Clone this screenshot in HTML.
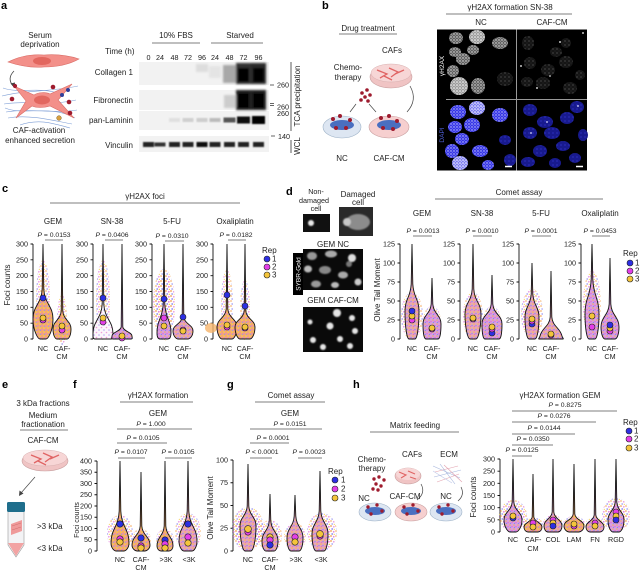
<!DOCTYPE html>
<html><head><meta charset="utf-8"><style>
html,body{margin:0;padding:0;background:#fff}
svg{display:block}
text{font-family:"Liberation Sans",sans-serif;fill:#222}
.L{font-size:11px;font-weight:bold;fill:#000}
.t{font-size:8px}
.s{font-size:8px}
.x{font-size:7.2px}
.k{font-size:7.2px}
.p{font-size:6.8px}
.m{text-anchor:middle}
.e{text-anchor:end}
</style></head><body>
<svg width="640" height="571" viewBox="0 0 640 571" xmlns="http://www.w3.org/2000/svg">
<defs>
<pattern id="po" width="4" height="4" patternUnits="userSpaceOnUse"><rect width="4" height="4" fill="#f3ab6b"/><circle cx="1" cy="1" r=".8" fill="#f8cf52"/><circle cx="3" cy="2.5" r=".8" fill="#e683c8"/><circle cx="1.5" cy="3.4" r=".6" fill="#9d90ee"/></pattern>
<pattern id="pp" width="4" height="4" patternUnits="userSpaceOnUse"><rect width="4" height="4" fill="#d9a0e0"/><circle cx="1" cy="1" r=".8" fill="#f0a860"/><circle cx="3" cy="2.5" r=".8" fill="#e36fd4"/><circle cx="1.5" cy="3.4" r=".7" fill="#8c88f0"/></pattern>
<pattern id="pm" width="4" height="4" patternUnits="userSpaceOnUse"><rect width="4" height="4" fill="#e8a6b6"/><circle cx="1" cy="1" r=".8" fill="#f4b85a"/><circle cx="3" cy="2.5" r=".8" fill="#9a8cf0"/><circle cx="1.5" cy="3.4" r=".7" fill="#e070d0"/></pattern>
<pattern id="pw" width="5" height="5" patternUnits="userSpaceOnUse"><rect width="5" height="5" fill="#fbf6fb"/><circle cx="1" cy="1" r=".8" fill="#b7a6f3"/><circle cx="3.5" cy="3.5" r=".8" fill="#ef9cd9"/></pattern>
<pattern id="pc" width="5" height="5" patternUnits="userSpaceOnUse"><circle cx="1" cy="1" r=".9" fill="#f2a65a" opacity=".8"/><circle cx="3.8" cy="1.8" r=".9" fill="#e27ad8" opacity=".7"/><circle cx="2.2" cy="4" r=".9" fill="#8f86ee" opacity=".75"/><circle cx="4.4" cy="4.4" r=".7" fill="#f7cf4a" opacity=".7"/></pattern>
<pattern id="sg" width="3" height="3" patternUnits="userSpaceOnUse"><rect width="3" height="3" fill="#5e5e5e"/><circle cx="1" cy="1" r=".7" fill="#eee"/><circle cx="2.3" cy="2.2" r=".5" fill="#bbb"/></pattern>
<pattern id="sgb" width="3" height="3" patternUnits="userSpaceOnUse"><rect width="3" height="3" fill="#9a9a9a"/><circle cx="1" cy="1" r=".8" fill="#fff"/><circle cx="2.3" cy="2.2" r=".5" fill="#ddd"/></pattern>
<pattern id="sd" width="4" height="4" patternUnits="userSpaceOnUse"><rect width="4" height="4" fill="#151515"/><circle cx="1" cy="1" r=".6" fill="#666"/><circle cx="3" cy="3" r=".4" fill="#404040"/></pattern>
<pattern id="sb" width="3" height="3" patternUnits="userSpaceOnUse"><rect width="3" height="3" fill="#3434e4"/><circle cx="1" cy="1" r=".7" fill="#d0d0ff"/><circle cx="2.3" cy="2.2" r=".5" fill="#8888ff"/></pattern>
<pattern id="sbw" width="3" height="3" patternUnits="userSpaceOnUse"><rect width="3" height="3" fill="#7a7af0"/><circle cx="1" cy="1" r=".8" fill="#fff"/><circle cx="2.3" cy="2.2" r=".6" fill="#e0e0ff"/></pattern>
<pattern id="sbd" width="4" height="4" patternUnits="userSpaceOnUse"><rect width="4" height="4" fill="#181a8e"/><circle cx="1" cy="1" r=".6" fill="#3a3ed8"/></pattern>
<filter id="bl" x="-50%" y="-50%" width="200%" height="200%"><feGaussianBlur stdDeviation="1"/></filter>
<filter id="bl2" x="-50%" y="-50%" width="200%" height="200%"><feGaussianBlur stdDeviation="0.7"/></filter>
</defs>
<rect width="640" height="571" fill="#fff"/>

<!-- ============ PANEL A ============ -->
<text class="L" x="1" y="9">a</text>
<text class="t m" x="40" y="38">Serum</text>
<text class="t m" x="40" y="47">deprivation</text>
<path d="M8,62 C20,56 32,54 44,55 C58,54 70,56 79,59 C70,64 58,67 44,67 C32,68 20,66 8,62Z" fill="#f3908a" stroke="#d96c66" stroke-width=".6"/>
<ellipse cx="42" cy="61" rx="9" ry="4" fill="#e2675f"/>
<path d="M14,71 C9,76 9,81 13,86" fill="none" stroke="#444" stroke-width=".8"/>
<polygon points="10.5,83.5 14.5,87.5 15,82.5" fill="#444"/>
<g fill="none" stroke="#7f9fd6" stroke-width=".6">
<path d="M2,96 C25,90 50,92 78,86"/><path d="M4,104 C30,100 50,106 76,100"/><path d="M6,112 C30,108 55,114 77,110"/><path d="M8,118 C30,114 55,121 72,124"/><path d="M20,125 C40,118 55,124 70,128"/><path d="M3,88 C20,94 40,86 60,94"/><path d="M5,108 C25,116 50,104 75,118"/>
</g>
<path d="M14,86 L34,95 C38,92 46,92 50,94 L72,84 L58,100 L74,118 L50,106 C44,108 36,108 32,106 L16,118 L26,101 Z" fill="#f3908a" stroke="#d96c66" stroke-width=".6"/>
<ellipse cx="42" cy="100" rx="8" ry="4.5" fill="#e2675f"/>
<g fill="#9e1b2e"><circle cx="12" cy="99" r="2.3"/><circle cx="53" cy="87" r="2.3"/><circle cx="69" cy="102" r="2.3"/><circle cx="70" cy="113" r="2.3"/><circle cx="15" cy="86" r="2.1"/></g>
<g fill="#2f3f9a"><circle cx="68" cy="90" r="2"/><circle cx="62" cy="95" r="2"/></g>
<circle cx="59" cy="118" r="2.3" fill="#d8a040" stroke="#7a5a20" stroke-width=".5"/>
<text class="t m" x="39" y="133">CAF-activation</text>
<text class="t m" x="40" y="143">enhanced secretion</text>

<!-- blot -->
<text class="s m" x="176" y="38">10% FBS</text>
<text class="s m" x="240" y="38">Starved</text>
<path d="M152,43H200 M211,43H263" stroke="#555" stroke-width=".8"/>
<text class="s" x="105" y="54">Time (h)</text>
<text class="k m" x="148.5" y="60">0</text><text class="k m" x="160" y="60">24</text><text class="k m" x="174.5" y="60">48</text><text class="k m" x="188" y="60">72</text><text class="k m" x="202" y="60">96</text><text class="k m" x="215" y="60">24</text><text class="k m" x="229.5" y="60">48</text><text class="k m" x="243.5" y="60">72</text><text class="k m" x="258.5" y="60">96</text>
<text class="s e" x="133" y="75">Collagen 1</text>
<text class="s e" x="133" y="103">Fibronectin</text>
<text class="s e" x="133" y="123">pan-Laminin</text>
<text class="s e" x="133" y="148">Vinculin</text>
<rect x="139" y="62" width="130" height="23" fill="#f2f2f2"/>
<rect x="139" y="90" width="130" height="20" fill="#f2f2f2"/>
<rect x="139" y="111" width="130" height="19" fill="#f2f2f2"/>
<rect x="139" y="136" width="130" height="16" fill="#f2f2f2"/>
<g filter="url(#bl)">
<rect x="196" y="64" width="12" height="8" fill="#ddd"/>
<rect x="209" y="66" width="12" height="12" fill="#e4e4e4"/>
<rect x="223" y="65" width="13" height="18" fill="#a8a8a8"/>
<rect x="236" y="63" width="15" height="21" fill="#333"/>
<rect x="238" y="68" width="11" height="14" fill="#000"/>
<rect x="251" y="63" width="15" height="21" fill="#2a2a2a"/>
<rect x="253" y="68" width="11" height="14" fill="#000"/>
<rect x="224" y="95" width="12" height="13" fill="#ccc"/>
<rect x="236" y="90" width="15" height="20" fill="#222"/>
<rect x="238" y="93" width="11" height="15" fill="#000"/>
<rect x="251" y="90" width="15" height="20" fill="#222"/>
<rect x="253" y="93" width="11" height="15" fill="#000"/>
</g>
<g filter="url(#bl2)">
<rect x="169" y="118" width="11" height="4" fill="#e0e0e0"/>
<rect x="182.5" y="118" width="11" height="4" fill="#d0d0d0"/>
<rect x="196.5" y="118" width="11" height="4" fill="#cdcdcd"/>
<rect x="209.5" y="118" width="11" height="4" fill="#bcbcbc"/>
<rect x="223.5" y="117.5" width="12" height="5" fill="#555"/>
<rect x="237" y="116.5" width="13" height="7" fill="#111"/>
<rect x="252" y="116" width="13" height="8" fill="#000"/>
<rect x="143" y="142" width="11" height="5" fill="#222"/>
<rect x="154.5" y="142.5" width="11" height="4" fill="#333"/>
<rect x="169" y="142" width="11" height="5" fill="#222"/>
<rect x="182.5" y="142" width="11" height="5" fill="#222"/>
<rect x="196.5" y="142" width="11" height="5" fill="#111"/>
<rect x="209.5" y="142" width="11" height="5" fill="#222"/>
<rect x="224" y="142" width="11" height="5" fill="#222"/>
<rect x="238" y="142" width="11" height="5" fill="#222"/>
<rect x="253" y="142" width="11" height="5" fill="#222"/>
</g>
<path d="M270,85H274 M270,103.5H274 M270,105.5H274 M271,136H275" stroke="#333" stroke-width=".7"/>
<text class="k" x="277" y="87.5">260</text>
<text class="k" x="277" y="109.5">260</text>
<text class="k" x="277" y="116">260</text>
<text class="k" x="278" y="139">140</text>
<path d="M291,62V131 M291,140V153" stroke="#333" stroke-width=".8"/>
<text class="s m" transform="translate(300,96) rotate(-90)">TCA precipitation</text>
<text class="s m" transform="translate(300,146) rotate(-90)">WCL</text>

<!-- ============ PANEL B ============ -->
<text class="L" x="322" y="9">b</text>
<text class="t m" x="368" y="31">Drug treatment</text>
<path d="M339,34H397" stroke="#555" stroke-width=".8"/>
<text class="t m" x="392" y="53">CAFs</text>
<text class="t m" x="348" y="70">Chemo-</text>
<text class="t m" x="348" y="80">therapy</text>
<ellipse cx="391" cy="77" rx="21" ry="11" fill="#f0c4c4" stroke="#c9a0a0" stroke-width=".6"/>
<ellipse cx="391" cy="73" rx="20" ry="9" fill="#f7d6d6" stroke="#d8b0b0" stroke-width=".5"/>
<g stroke="#e06464" stroke-width="1.3" fill="none"><path d="M377,70 L387,74 L380,78"/><path d="M389,68 L398,72 L391,77"/><path d="M395,74 L404,70"/><path d="M384,76 L392,80"/></g>
<g fill="#9e1b2e"><circle cx="362" cy="93" r="1.8"/><circle cx="367" cy="90" r="1.8"/><circle cx="365" cy="97" r="1.8"/><circle cx="370" cy="95" r="1.8"/><circle cx="361" cy="100" r="1.8"/><circle cx="368" cy="101" r="1.8"/></g>
<g stroke="#444" stroke-width=".7" fill="none"><path d="M356,104 L350,112"/><path d="M369,104 L376,112"/><path d="M410,86 Q418,100 407,112"/></g>
<ellipse cx="342" cy="127" rx="19" ry="11" fill="#dde6f2" stroke="#9fb3c8" stroke-width=".6"/>
<ellipse cx="342" cy="125" rx="12" ry="5" fill="#4a6fc0"/>
<ellipse cx="389" cy="127" rx="20" ry="11" fill="#f6cfcf" stroke="#c9a0a0" stroke-width=".6"/>
<ellipse cx="389" cy="125" rx="12" ry="5" fill="#4a6fc0"/>
<g fill="#9e1b2e"><circle cx="333" cy="119" r="2"/><circle cx="340" cy="116" r="2"/><circle cx="350" cy="120" r="2"/><circle cx="346" cy="128" r="2"/><circle cx="336" cy="128" r="2"/><circle cx="381" cy="118" r="2"/><circle cx="389" cy="116" r="2"/><circle cx="397" cy="121" r="2"/><circle cx="393" cy="129" r="2"/><circle cx="383" cy="128" r="2"/></g>
<text class="t m" x="342" y="161">NC</text>
<text class="t m" x="389" y="161">CAF-CM</text>

<text class="t m" x="510" y="10">γH2AX formation SN-38</text>
<path d="M446,14H572" stroke="#555" stroke-width=".8"/>
<text class="t m" x="481" y="25">NC</text>
<text class="t m" x="552" y="25">CAF-CM</text>
<rect x="437" y="29.5" width="9" height="141" fill="#000"/>
<text class="k m" transform="translate(444,66) rotate(-90)" style="fill:#fff;font-size:6.5px">γH2AX</text>
<text class="k m" transform="translate(444,135) rotate(-90)" style="fill:#5060d8;font-size:6.5px">DAPI</text>
<rect x="446" y="29.5" width="141" height="141" fill="#000"/>
<g>
<ellipse cx="456" cy="38" rx="7" ry="6" fill="url(#sg)"/><ellipse cx="477" cy="37" rx="8" ry="7" fill="url(#sgb)"/><ellipse cx="500" cy="43" rx="8" ry="6" fill="url(#sg)"/><ellipse cx="455" cy="52" rx="6" ry="5" fill="url(#sg)"/><ellipse cx="473" cy="50" rx="6" ry="5" fill="url(#sg)"/><ellipse cx="463" cy="59" rx="7" ry="6" fill="url(#sg)"/><ellipse cx="453" cy="71" rx="6" ry="6" fill="url(#sg)"/><ellipse cx="459" cy="86" rx="9" ry="9" fill="url(#sgb)"/><ellipse cx="478" cy="86" rx="7" ry="8" fill="url(#sg)"/><ellipse cx="505" cy="79" rx="8" ry="7" fill="url(#sd)"/>
<ellipse cx="528" cy="43" rx="6" ry="7" fill="url(#sd)"/><ellipse cx="566" cy="43" rx="5" ry="5" fill="url(#sd)"/><ellipse cx="530" cy="63" rx="6" ry="6" fill="url(#sd)"/><ellipse cx="548" cy="70" rx="7" ry="6" fill="url(#sd)"/><ellipse cx="566" cy="62" rx="7" ry="6" fill="url(#sd)"/><ellipse cx="543" cy="83" rx="7" ry="6" fill="url(#sd)"/><ellipse cx="570" cy="88" rx="7" ry="6" fill="url(#sd)"/><ellipse cx="527" cy="82" rx="6" ry="5" fill="url(#sd)"/><ellipse cx="556" cy="52" rx="6" ry="5" fill="url(#sd)"/><ellipse cx="580" cy="75" rx="5" ry="5" fill="url(#sd)"/>
<g fill="#fff"><circle cx="521" cy="66" r=".9"/><circle cx="537" cy="88" r=".9"/><circle cx="560" cy="42" r=".9"/><circle cx="583" cy="33" r=".9"/><circle cx="550" cy="76" r=".8"/></g>
<ellipse cx="458" cy="112" rx="8" ry="7" fill="url(#sb)"/><ellipse cx="477" cy="108" rx="8" ry="7" fill="url(#sbw)"/><ellipse cx="500" cy="115" rx="8" ry="7" fill="url(#sb)"/><ellipse cx="455" cy="127" rx="7" ry="6" fill="url(#sb)"/><ellipse cx="472" cy="125" rx="8" ry="7" fill="url(#sb)"/><ellipse cx="462" cy="139" rx="7" ry="6" fill="url(#sb)"/><ellipse cx="452" cy="151" rx="7" ry="7" fill="url(#sb)"/><ellipse cx="480" cy="151" rx="8" ry="6" fill="url(#sb)"/><ellipse cx="505" cy="140" rx="6" ry="5" fill="url(#sbd)"/><ellipse cx="460" cy="163" rx="8" ry="7" fill="url(#sbw)"/><ellipse cx="488" cy="165" rx="6" ry="5" fill="url(#sb)"/><ellipse cx="510" cy="160" rx="6" ry="6" fill="url(#sbd)"/>
<ellipse cx="530" cy="110" rx="7" ry="6" fill="url(#sbd)"/><ellipse cx="545" cy="122" rx="8" ry="6" fill="url(#sbd)"/><ellipse cx="577" cy="107" rx="7" ry="6" fill="url(#sbd)"/><ellipse cx="552" cy="133" rx="8" ry="6" fill="url(#sbd)"/><ellipse cx="567" cy="118" rx="7" ry="6" fill="url(#sbd)"/><ellipse cx="530" cy="133" rx="7" ry="6" fill="url(#sbd)"/><ellipse cx="563" cy="146" rx="7" ry="5" fill="url(#sbd)"/><ellipse cx="540" cy="151" rx="7" ry="6" fill="url(#sbd)"/><ellipse cx="575" cy="158" rx="6" ry="5" fill="url(#sbd)"/><ellipse cx="528" cy="162" rx="7" ry="5" fill="url(#sbd)"/><ellipse cx="555" cy="163" rx="6" ry="5" fill="url(#sbd)"/><ellipse cx="583" cy="135" rx="5" ry="6" fill="url(#sbd)"/>
<g fill="#ddf"><circle cx="547" cy="122" r=".9"/><circle cx="531" cy="133" r=".9"/><circle cx="578" cy="106" r=".9"/></g>
</g>
<path d="M516.5,29.5V170.5 M446,99.5H587" stroke="#999" stroke-width="1"/>
<path d="M505,166.5H512 M576,166.5H583" stroke="#fff" stroke-width="1.5"/>

<!-- ============ PANEL C ============ -->
<text class="L" x="2" y="192">c</text>
<text class="t m" x="145" y="199">γH2AX foci</text>
<path d="M50,203H240" stroke="#555" stroke-width=".8"/>
<text class="t m" x="53" y="224">GEM</text>
<text class="t m" x="112" y="224">SN-38</text>
<text class="t m" x="172" y="224">5-FU</text>
<text class="t m" x="235" y="224">Oxaliplatin</text>
<text class="p m" x="54" y="237"><tspan font-style="italic">P</tspan> = 0.0153</text>
<text class="p m" x="112" y="237"><tspan font-style="italic">P</tspan> = 0.0406</text>
<text class="p m" x="172" y="238"><tspan font-style="italic">P</tspan> = 0.0310</text>
<text class="p m" x="236" y="237"><tspan font-style="italic">P</tspan> = 0.0182</text>
<path d="M45,240H63 M105,240H123 M165,241H184 M228,240H246" stroke="#555" stroke-width=".7"/>
<g stroke="#111" stroke-width=".9" fill="none">
<path d="M33,244V339 M30.5,244H33 M30.5,259.8H33 M30.5,275.7H33 M30.5,291.5H33 M30.5,307.3H33 M30.5,323.2H33 M30.5,339H33"/>
<path d="M93,244V339 M90.5,244H93 M90.5,259.8H93 M90.5,275.7H93 M90.5,291.5H93 M90.5,307.3H93 M90.5,323.2H93 M90.5,339H93"/>
<path d="M152,244V339 M149.5,244H152 M149.5,259.8H152 M149.5,275.7H152 M149.5,291.5H152 M149.5,307.3H152 M149.5,323.2H152 M149.5,339H152"/>
<path d="M213,244V339 M210.5,244H213 M210.5,259.8H213 M210.5,275.7H213 M210.5,291.5H213 M210.5,307.3H213 M210.5,323.2H213 M210.5,339H213"/>
</g>
<text class="k e" x="28" y="246.5">300</text><text class="k e" x="28" y="262.3">250</text><text class="k e" x="28" y="278.2">200</text><text class="k e" x="28" y="294">150</text><text class="k e" x="28" y="309.8">100</text><text class="k e" x="28" y="325.7">50</text><text class="k e" x="28" y="341.5">0</text>
<text class="k e" x="88" y="246.5">300</text><text class="k e" x="88" y="262.3">250</text><text class="k e" x="88" y="278.2">200</text><text class="k e" x="88" y="294">150</text><text class="k e" x="88" y="309.8">100</text><text class="k e" x="88" y="325.7">50</text><text class="k e" x="88" y="341.5">0</text>
<text class="k e" x="147" y="246.5">300</text><text class="k e" x="147" y="262.3">250</text><text class="k e" x="147" y="278.2">200</text><text class="k e" x="147" y="294">150</text><text class="k e" x="147" y="309.8">100</text><text class="k e" x="147" y="325.7">50</text><text class="k e" x="147" y="341.5">0</text>
<text class="k e" x="208" y="246.5">300</text><text class="k e" x="208" y="262.3">250</text><text class="k e" x="208" y="278.2">200</text><text class="k e" x="208" y="294">150</text><text class="k e" x="208" y="309.8">100</text><text class="k e" x="208" y="325.7">50</text><text class="k e" x="208" y="341.5">0</text>
<text class="t m" transform="translate(10,285) rotate(-90)">Foci counts</text>
<g fill="url(#pc)">
<ellipse cx="43" cy="300" rx="7" ry="40"/><ellipse cx="103" cy="300" rx="7" ry="40"/><ellipse cx="164" cy="305" rx="11" ry="36"/><ellipse cx="164" cy="305" rx="9" ry="30"/><ellipse cx="227" cy="305" rx="6" ry="35"/><ellipse cx="245" cy="310" rx="5" ry="30"/><ellipse cx="62" cy="320" rx="5" ry="25"/>
</g>
<ellipse cx="211" cy="328" rx="6" ry="5" fill="#f6b46a" opacity=".8"/>
<g stroke="#111" stroke-width=".9">
<path transform="translate(43,339)" fill="url(#po)" d="M0,-95 L0.8,-50 C1.5,-35 10,-33.5 10,-20 C10,-8 5,0 3,0 L-3,0 C-5,0 -10,-8 -10,-20 C-10,-33.5 -1.5,-35 -0.8,-50 Z"/>
<path transform="translate(62,339)" fill="url(#po)" d="M0,-95 L0.8,-28 C1.5,-19 9,-18 9,-10 C9,-4 7,0 5,0 L-5,0 C-7,0 -9,-4 -9,-10 C-9,-18 -1.5,-19 -0.8,-28 Z"/>
<path transform="translate(103,339)" fill="url(#pw)" d="M0,-95 L0.8,-35 C1.5,-20 10,-18.5 10,-5 C10,-2 10,0 8,0 L-8,0 C-10,0 -10,-2 -10,-5 C-10,-18.5 -1.5,-20 -0.8,-35 Z"/>
<path transform="translate(122,339)" fill="url(#pp)" d="M0,-95 L0.8,-12 C1.5,-7.5 10,-7 10,-3 C10,-1.2 11,0 9,0 L-9,0 C-11,0 -10,-1.2 -10,-3 C-10,-7 -1.5,-7.5 -0.8,-12 Z"/>
<path transform="translate(164,339)" fill="url(#pp)" d="M0,-95 L0.8,-35 C1.5,-20.5 7,-19 7,-6 C7,-2.4 6,0 4,0 L-4,0 C-6,0 -7,-2.4 -7,-6 C-7,-19 -1.5,-20.5 -0.8,-35 Z"/>
<path transform="translate(183,339)" fill="url(#pm)" d="M0,-95 L0.8,-22 C1.5,-15 10,-14.3 10,-8 C10,-3.2 7,0 5,0 L-5,0 C-7,0 -10,-3.2 -10,-8 C-10,-14.3 -1.5,-15 -0.8,-22 Z"/>
<path transform="translate(227,339)" fill="url(#po)" d="M0,-95 L0.8,-30 C1.5,-21 10,-20 10,-12 C10,-4.8 7,0 5,0 L-5,0 C-7,0 -10,-4.8 -10,-12 C-10,-20 -1.5,-21 -0.8,-30 Z"/>
<path transform="translate(245,339)" fill="url(#po)" d="M0,-95 L0.8,-28 C1.5,-20 10,-19 10,-12 C10,-4.8 7,0 5,0 L-5,0 C-7,0 -10,-4.8 -10,-12 C-10,-19 -1.5,-20 -0.8,-28 Z"/>
</g>
<g stroke="#222" stroke-width=".6">
<circle cx="43" cy="298" r="3" fill="#2d2fe3"/><circle cx="43" cy="320" r="3" fill="#e33fe8"/><circle cx="43" cy="318" r="3" fill="#f4c53b"/>
<circle cx="62" cy="330" r="3" fill="#e33fe8"/><circle cx="62" cy="326" r="3" fill="#f4c53b"/>
<circle cx="103" cy="298" r="3" fill="#2d2fe3"/><circle cx="103" cy="322" r="3" fill="#e33fe8"/><circle cx="103" cy="318" r="3" fill="#f4c53b"/>
<circle cx="122" cy="338" r="3" fill="#e33fe8"/><circle cx="122" cy="336" r="3" fill="#f4c53b"/>
<circle cx="164" cy="299" r="3" fill="#2d2fe3"/><circle cx="164" cy="318" r="3" fill="#e33fe8"/><circle cx="164" cy="326" r="3" fill="#f4c53b"/>
<circle cx="183" cy="317" r="3" fill="#2d2fe3"/><circle cx="183" cy="330" r="3" fill="#e33fe8"/><circle cx="183" cy="331" r="3" fill="#f4c53b"/>
<circle cx="227" cy="295" r="3" fill="#2d2fe3"/><circle cx="227" cy="327" r="3" fill="#e33fe8"/><circle cx="227" cy="325" r="3" fill="#f4c53b"/>
<circle cx="245" cy="306" r="3" fill="#2d2fe3"/><circle cx="245" cy="328" r="3" fill="#e33fe8"/><circle cx="245" cy="327" r="3" fill="#f4c53b"/>
</g>
<text class="x m" x="43" y="351">NC</text><text class="x m" x="62" y="351">CAF-</text><text class="x m" x="62" y="359">CM</text>
<text class="x m" x="103" y="351">NC</text><text class="x m" x="122" y="351">CAF-</text><text class="x m" x="122" y="359">CM</text>
<text class="x m" x="164" y="351">NC</text><text class="x m" x="183" y="351">CAF-</text><text class="x m" x="183" y="359">CM</text>
<text class="x m" x="227" y="351">NC</text><text class="x m" x="245" y="351">CAF-</text><text class="x m" x="245" y="359">CM</text>
<text class="s" x="262" y="253">Rep</text>
<g stroke="#222" stroke-width=".6"><circle cx="267" cy="259" r="3" fill="#2d2fe3"/><circle cx="267" cy="267" r="3" fill="#e33fe8"/><circle cx="267" cy="275" r="3" fill="#f4c53b"/></g>
<text class="s" x="272" y="261.5">1</text><text class="s" x="272" y="269.5">2</text><text class="s" x="272" y="277.5">3</text>

<!-- ============ PANEL D ============ -->
<text class="L" x="286" y="195">d</text>
<text class="x m" x="316" y="194">Non-</text>
<text class="x m" x="314" y="203">damaged</text>
<text class="x m" x="316" y="211">cell</text>
<rect x="303" y="214" width="27" height="18" fill="#111"/>
<circle cx="311" cy="223" r="3" fill="#e8e8e8" filter="url(#bl2)"/>
<text class="s m" x="358" y="197">Damaged</text>
<text class="s m" x="358" y="205">cell</text>
<rect x="339" y="207" width="34" height="29" fill="#2a2a2a"/>
<ellipse cx="358" cy="222" rx="12" ry="8" fill="#8c8c8c" filter="url(#bl2)"/>
<circle cx="347" cy="222" r="4" fill="#c8c8c8" filter="url(#bl2)"/>
<text class="s m" x="333" y="247">GEM NC</text>
<rect x="303" y="249" width="60" height="41" fill="#0a0a0a"/>
<g filter="url(#bl2)">
<ellipse cx="312" cy="256" rx="5" ry="4" fill="#999"/><ellipse cx="331" cy="254" rx="6" ry="3.5" fill="#aaa"/><circle cx="352" cy="258" r="4" fill="#ddd"/><ellipse cx="308" cy="269" rx="4" ry="3.5" fill="#bbb"/><ellipse cx="325" cy="270" rx="6" ry="4" fill="#888"/><ellipse cx="343" cy="275" rx="5" ry="3.5" fill="#aaa"/><circle cx="358" cy="282" r="3.5" fill="#ccc"/><ellipse cx="316" cy="284" rx="5" ry="3.5" fill="#999"/><ellipse cx="335" cy="285" rx="4" ry="3" fill="#bbb"/><circle cx="349" cy="264" r="3" fill="#777"/>
</g>
<rect x="293" y="253" width="10" height="42" fill="#000"/>
<text class="k m" transform="translate(300.5,274) rotate(-90)" style="fill:#fff;font-size:6.5px">SYBR-Gold</text>
<text class="s m" x="333" y="303">GEM CAF-CM</text>
<rect x="303" y="307" width="60" height="45" fill="#0a0a0a"/>
<g fill="#e6e6e6" filter="url(#bl2)">
<circle cx="337" cy="313" r="4"/><circle cx="352" cy="318" r="3"/><circle cx="330" cy="326" r="3.5"/><circle cx="355" cy="331" r="3"/><circle cx="340" cy="339" r="3"/><circle cx="313" cy="340" r="3"/><circle cx="323" cy="347" r="3"/><circle cx="350" cy="346" r="3"/><circle cx="310" cy="322" r="2.5"/>
</g>
<text class="t m" x="519" y="195">Comet assay</text>
<path d="M435,199H603" stroke="#555" stroke-width=".8"/>
<text class="t m" x="422" y="216">GEM</text>
<text class="t m" x="482" y="216">SN-38</text>
<text class="t m" x="541" y="216">5-FU</text>
<text class="t m" x="600" y="216">Oxaliplatin</text>
<text class="p m" x="423" y="233"><tspan font-style="italic">P</tspan> = 0.0013</text>
<text class="p m" x="482" y="233"><tspan font-style="italic">P</tspan> = 0.0010</text>
<text class="p m" x="541" y="233"><tspan font-style="italic">P</tspan> = 0.0001</text>
<text class="p m" x="600" y="233"><tspan font-style="italic">P</tspan> = 0.0453</text>
<path d="M413,236H432 M473,236H492 M532,236H551 M592,236H610" stroke="#555" stroke-width=".7"/>
<g stroke="#111" stroke-width=".9" fill="none">
<path d="M400,244V339 M397.5,244H400 M397.5,263H400 M397.5,282H400 M397.5,301H400 M397.5,320H400 M397.5,339H400"/>
<path d="M460,244V339 M457.5,244H460 M457.5,263H460 M457.5,282H460 M457.5,301H460 M457.5,320H460 M457.5,339H460"/>
<path d="M519,244V339 M516.5,244H519 M516.5,263H519 M516.5,282H519 M516.5,301H519 M516.5,320H519 M516.5,339H519"/>
<path d="M581,244V339 M578.5,244H581 M578.5,263H581 M578.5,282H581 M578.5,301H581 M578.5,320H581 M578.5,339H581"/>
</g>
<text class="k e" x="395" y="246.5">125</text><text class="k e" x="395" y="265.5">100</text><text class="k e" x="395" y="284.5">75</text><text class="k e" x="395" y="303.5">50</text><text class="k e" x="395" y="322.5">25</text><text class="k e" x="395" y="341.5">0</text>
<text class="k e" x="455" y="246.5">125</text><text class="k e" x="455" y="265.5">100</text><text class="k e" x="455" y="284.5">75</text><text class="k e" x="455" y="303.5">50</text><text class="k e" x="455" y="322.5">25</text><text class="k e" x="455" y="341.5">0</text>
<text class="k e" x="514" y="246.5">125</text><text class="k e" x="514" y="265.5">100</text><text class="k e" x="514" y="284.5">75</text><text class="k e" x="514" y="303.5">50</text><text class="k e" x="514" y="322.5">25</text><text class="k e" x="514" y="341.5">0</text>
<text class="k e" x="576" y="246.5">125</text><text class="k e" x="576" y="265.5">100</text><text class="k e" x="576" y="284.5">75</text><text class="k e" x="576" y="303.5">50</text><text class="k e" x="576" y="322.5">25</text><text class="k e" x="576" y="341.5">0</text>
<text class="t m" transform="translate(380,290) rotate(-90)">Olive Tail Moment</text>
<g fill="url(#pc)">
<ellipse cx="412" cy="316" rx="11" ry="24"/><ellipse cx="432" cy="322" rx="9" ry="16"/><ellipse cx="473" cy="316" rx="10" ry="24"/><ellipse cx="492" cy="322" rx="9" ry="16"/><ellipse cx="532" cy="314" rx="11" ry="25"/><ellipse cx="532" cy="318" rx="9" ry="18"/><ellipse cx="592" cy="305" rx="9" ry="34"/><ellipse cx="610" cy="325" rx="8" ry="14"/>
</g>
<g stroke="#111" stroke-width=".9">
<path transform="translate(412,339)" fill="url(#pm)" d="M0,-95 L0.8,-55 C1.5,-41.5 7,-40 7,-28 C7,-11 5,0 3,0 L-3,0 C-5,0 -7,-11 -7,-28 C-7,-40 -1.5,-41.5 -0.8,-55 Z"/>
<path transform="translate(432,339)" fill="url(#pp)" d="M0,-61 L0.8,-35 C1.5,-25 9,-24 9,-15 C9,-6 8,0 6,0 L-6,0 C-8,0 -9,-6 -9,-15 C-9,-24 -1.5,-25 -0.8,-35 Z"/>
<path transform="translate(473,339)" fill="url(#pm)" d="M0,-95 L0.8,-50 C1.5,-37.5 8,-36 8,-25 C8,-10 5,0 3,0 L-3,0 C-5,0 -8,-10 -8,-25 C-8,-36 -1.5,-37.5 -0.8,-50 Z"/>
<path transform="translate(492,339)" fill="url(#pp)" d="M0,-64 L0.8,-35 C1.5,-25 10,-24 10,-15 C10,-6 9,0 7,0 L-7,0 C-9,0 -10,-6 -10,-15 C-10,-24 -1.5,-25 -0.8,-35 Z"/>
<path transform="translate(532,339)" fill="url(#pm)" d="M0,-76 L0.8,-45 C1.5,-33.5 7,-32 7,-22 C7,-9 5,0 3,0 L-3,0 C-5,0 -7,-9 -7,-22 C-7,-32 -1.5,-33.5 -0.8,-45 Z"/>
<path transform="translate(551,339)" fill="url(#pm)" d="M0,-68 L0.8,-22 C1.5,-12.5 9,-11.5 11,-3 C11.5,-1.2 13,0 12,0 L-12,0 C-13,0 -11.5,-1.2 -11,-3 C-9,-11.5 -1.5,-12.5 -0.8,-22 Z"/>
<path transform="translate(592,339)" fill="url(#pp)" d="M0,-95 L0.8,-60 C1.5,-42.5 7,-41 7,-25 C7,-10 5,0 3,0 L-3,0 C-5,0 -7,-10 -7,-25 C-7,-41 -1.5,-42.5 -0.8,-60 Z"/>
<path transform="translate(610,339)" fill="url(#pp)" d="M0,-81 L0.8,-35 C1.5,-23.5 9,-22 9,-12 C9,-4.8 7,0 5,0 L-5,0 C-7,0 -9,-4.8 -9,-12 C-9,-22 -1.5,-23.5 -0.8,-35 Z"/>
</g>
<g stroke="#222" stroke-width=".6">
<circle cx="412" cy="320" r="3" fill="#e33fe8"/><circle cx="412" cy="316" r="3" fill="#f4c53b"/><circle cx="412" cy="311" r="3" fill="#2d2fe3"/>
<circle cx="432" cy="329" r="3" fill="#e33fe8"/><circle cx="432" cy="328" r="3" fill="#f4c53b"/>
<circle cx="473" cy="319" r="3" fill="#e33fe8"/><circle cx="473" cy="318" r="3" fill="#f4c53b"/>
<circle cx="492" cy="333" r="3" fill="#2d2fe3"/><circle cx="492" cy="329" r="3" fill="#e33fe8"/><circle cx="492" cy="327" r="3" fill="#f4c53b"/>
<circle cx="532" cy="324" r="3" fill="#2d2fe3"/><circle cx="532" cy="321" r="3" fill="#e33fe8"/><circle cx="532" cy="319" r="3" fill="#f4c53b"/>
<circle cx="551" cy="335" r="3" fill="#e33fe8"/><circle cx="551" cy="334" r="3" fill="#f4c53b"/>
<circle cx="592" cy="327" r="3" fill="#e33fe8"/><circle cx="592" cy="316" r="3" fill="#f4c53b"/>
<circle cx="610" cy="331" r="3" fill="#e33fe8"/><circle cx="610" cy="328" r="3" fill="#f4c53b"/><circle cx="610" cy="325" r="3" fill="#2d2fe3"/>
</g>
<text class="x m" x="412" y="351">NC</text><text class="x m" x="432" y="351">CAF-</text><text class="x m" x="432" y="359">CM</text>
<text class="x m" x="473" y="351">NC</text><text class="x m" x="492" y="351">CAF-</text><text class="x m" x="492" y="359">CM</text>
<text class="x m" x="532" y="351">NC</text><text class="x m" x="551" y="351">CAF-</text><text class="x m" x="551" y="359">CM</text>
<text class="x m" x="592" y="351">NC</text><text class="x m" x="610" y="351">CAF-</text><text class="x m" x="610" y="359">CM</text>
<text class="s" x="623" y="256">Rep</text>
<g stroke="#222" stroke-width=".6"><circle cx="630" cy="263" r="3" fill="#2d2fe3"/><circle cx="630" cy="271" r="3" fill="#e33fe8"/><circle cx="630" cy="279" r="3" fill="#f4c53b"/></g>
<text class="s" x="635" y="265.5">1</text><text class="s" x="635" y="273.5">2</text><text class="s" x="635" y="281.5">3</text>

<!-- ============ PANEL E ============ -->
<text class="L" x="2" y="388">e</text>
<text class="t m" x="43" y="406">3 kDa fractions</text>
<text class="t m" x="43" y="418">Medium</text>
<text class="t m" x="43" y="427">fractionation</text>
<path d="M20,430H68" stroke="#555" stroke-width=".8"/>
<text class="t m" x="43" y="443">CAF-CM</text>
<ellipse cx="45" cy="461" rx="23" ry="10" fill="#f0c4c4" stroke="#c9a0a0" stroke-width=".6"/>
<ellipse cx="45" cy="458" rx="22" ry="8" fill="#f7d6d6" stroke="#d8b0b0" stroke-width=".5"/>
<g stroke="#e06464" stroke-width="1.3" fill="none"><path d="M31,455 L41,459 L34,463"/><path d="M43,453 L52,457 L45,462"/><path d="M50,459 L59,455"/><path d="M38,461 L46,465"/></g>
<path d="M35,477 L21,493" stroke="#444" stroke-width=".7"/>
<polygon points="19,496 19.5,490.5 23.5,493.5" fill="#444"/>
<path d="M8,511 L24,511 L24,545 L16,557 L8,545 Z" fill="#f3f3f5" stroke="#999" stroke-width=".6"/>
<rect x="7" y="502" width="18" height="10" rx="1.5" fill="#1f6e8c"/>
<polygon points="11,524 22,520 22,531 11,535" fill="#ef9a9a"/>
<path d="M12,526 L21,523 M12,530 L21,527" stroke="#d06c6c" stroke-width=".5"/>
<path d="M8,543 L24,543 L16,556 Z" fill="#f2a3a3"/>
<text class="s" x="37" y="529">&gt;3 kDa</text>
<text class="s" x="37" y="551">&lt;3 kDa</text>

<!-- ============ PANEL F ============ -->
<text class="L" x="73" y="388">f</text>
<text class="t m" x="158" y="398">γH2AX formation</text>
<path d="M120,402H193" stroke="#555" stroke-width=".8"/>
<text class="t m" x="158" y="416">GEM</text>
<text class="p m" x="151" y="426"><tspan font-style="italic">P</tspan> = 1.000</text>
<path d="M117,429H192" stroke="#555" stroke-width=".7"/>
<text class="p m" x="143" y="440"><tspan font-style="italic">P</tspan> = 0.0105</text>
<path d="M117,443H167" stroke="#555" stroke-width=".7"/>
<text class="p m" x="131" y="454"><tspan font-style="italic">P</tspan> = 0.0107</text>
<text class="p m" x="178" y="454"><tspan font-style="italic">P</tspan> = 0.0105</text>
<path d="M118,458H145 M165,458H192" stroke="#555" stroke-width=".7"/>
<path d="M97,461V551 M94.5,461H97 M94.5,472.25H97 M94.5,483.5H97 M94.5,494.75H97 M94.5,506H97 M94.5,517.25H97 M94.5,528.5H97 M94.5,539.75H97 M94.5,551H97" stroke="#111" stroke-width=".9" fill="none"/>
<text class="k e" x="92" y="463.5">400</text><text class="k e" x="92" y="474.7">350</text><text class="k e" x="92" y="486">300</text><text class="k e" x="92" y="497.2">250</text><text class="k e" x="92" y="508.5">200</text><text class="k e" x="92" y="519.7">150</text><text class="k e" x="92" y="531">100</text><text class="k e" x="92" y="542.2">50</text><text class="k e" x="92" y="553.5">0</text>
<text class="m" style="font-size:7px" transform="translate(79,520) rotate(-90)">Foci counts</text>
<g fill="url(#pc)">
<ellipse cx="120" cy="533" rx="13" ry="18"/><ellipse cx="141" cy="540" rx="10" ry="11"/><ellipse cx="165" cy="540" rx="9" ry="11"/><ellipse cx="188" cy="532" rx="13" ry="19"/>
</g>
<g stroke="#111" stroke-width=".9">
<path transform="translate(120,551)" fill="url(#po)" d="M0,-90 L0.8,-40 C1.5,-24 9,-22.4 9,-8 C9,-3.2 6,0 4,0 L-4,0 C-6,0 -9,-3.2 -9,-8 C-9,-22.4 -1.5,-24 -0.8,-40 Z"/>
<path transform="translate(141,551)" fill="url(#po)" d="M0,-79 L0.8,-25 C1.5,-15.5 9,-14.5 9,-6 C9,-2.4 6,0 4,0 L-4,0 C-6,0 -9,-2.4 -9,-6 C-9,-14.5 -1.5,-15.5 -0.8,-25 Z"/>
<path transform="translate(165,551)" fill="url(#po)" d="M0,-90 L0.8,-25 C1.5,-15 8,-14 8,-5 C8,-2 6,0 4,0 L-4,0 C-6,0 -8,-2 -8,-5 C-8,-14 -1.5,-15 -0.8,-25 Z"/>
<path transform="translate(188,551)" fill="url(#pm)" d="M0,-90 L0.8,-40 C1.5,-25 9,-23.5 9,-10 C9,-4 6,0 4,0 L-4,0 C-6,0 -9,-4 -9,-10 C-9,-23.5 -1.5,-25 -0.8,-40 Z"/>
</g>
<g stroke="#222" stroke-width=".6">
<circle cx="120" cy="524" r="3.2" fill="#2d2fe3"/><circle cx="120" cy="539" r="3.2" fill="#e33fe8"/><circle cx="120" cy="542" r="3.2" fill="#f4c53b"/>
<circle cx="141" cy="538" r="3.2" fill="#2d2fe3"/><circle cx="141" cy="546" r="3.2" fill="#e33fe8"/><circle cx="141" cy="548" r="3.2" fill="#f4c53b"/>
<circle cx="165" cy="540" r="3.2" fill="#2d2fe3"/><circle cx="165" cy="544" r="3.2" fill="#e33fe8"/><circle cx="165" cy="548" r="3.2" fill="#f4c53b"/>
<circle cx="188" cy="524" r="3.2" fill="#2d2fe3"/><circle cx="188" cy="537" r="3.2" fill="#e33fe8"/><circle cx="188" cy="543" r="3.2" fill="#f4c53b"/>
</g>
<text class="x m" x="120" y="562">NC</text><text class="x m" x="141" y="562">CAF-</text><text class="x m" x="141" y="570">CM</text><text class="x m" x="166" y="562">&gt;3K</text><text class="x m" x="189" y="562">&lt;3K</text>

<!-- ============ PANEL G ============ -->
<text class="L" x="227" y="388">g</text>
<text class="t m" x="291" y="398">Comet assay</text>
<path d="M255,402H325" stroke="#555" stroke-width=".8"/>
<text class="t m" x="290" y="416">GEM</text>
<text class="p m" x="290" y="426"><tspan font-style="italic">P</tspan> = 0.0151</text>
<path d="M250,429H322" stroke="#555" stroke-width=".7"/>
<text class="p m" x="273" y="440"><tspan font-style="italic">P</tspan> = 0.0001</text>
<path d="M250,443H289" stroke="#555" stroke-width=".7"/>
<text class="p m" x="262" y="454"><tspan font-style="italic">P</tspan> &lt; 0.0001</text>
<text class="p m" x="309" y="454"><tspan font-style="italic">P</tspan> = 0.0023</text>
<path d="M250,458H272 M298,458H322" stroke="#555" stroke-width=".7"/>
<path d="M233,460V551 M230.5,460H233 M230.5,482.75H233 M230.5,505.5H233 M230.5,528.25H233 M230.5,551H233" stroke="#111" stroke-width=".9" fill="none"/>
<text class="k e" x="228" y="462.5">100</text><text class="k e" x="228" y="485.2">75</text><text class="k e" x="228" y="508">50</text><text class="k e" x="228" y="530.7">25</text><text class="k e" x="228" y="553.5">0</text>
<text class="t m" transform="translate(213,508) rotate(-90)">Olive Tail Moment</text>
<g fill="url(#pc)">
<ellipse cx="248" cy="529" rx="16" ry="22"/><ellipse cx="248" cy="531" rx="13" ry="18"/><ellipse cx="270" cy="536" rx="12" ry="16"/><ellipse cx="295" cy="537" rx="11" ry="14"/><ellipse cx="322" cy="532" rx="15" ry="19"/><ellipse cx="322" cy="534" rx="12" ry="15"/>
</g>
<g stroke="#111" stroke-width=".9">
<path transform="translate(248,551)" fill="url(#pm)" d="M0,-87 L0.8,-45 C1.5,-35 8,-34 8,-25 C8,-10 5,0 3,0 L-3,0 C-5,0 -8,-10 -8,-25 C-8,-34 -1.5,-35 -0.8,-45 Z"/>
<path transform="translate(270,551)" fill="url(#pm)" d="M0,-57 L0.8,-30 C1.5,-20 8,-19 8,-10 C8,-4 6,0 4,0 L-4,0 C-6,0 -8,-4 -8,-10 C-8,-19 -1.5,-20 -0.8,-30 Z"/>
<path transform="translate(295,551)" fill="url(#pm)" d="M0,-56 L0.8,-35 C1.5,-24 8,-23 8,-13 C8,-5 6,0 4,0 L-4,0 C-6,0 -8,-5 -8,-13 C-8,-23 -1.5,-24 -0.8,-35 Z"/>
<path transform="translate(320,551)" fill="url(#pm)" d="M0,-80 L0.8,-40 C1.5,-28.5 8,-27 8,-17 C8,-7 6,0 4,0 L-4,0 C-6,0 -8,-7 -8,-17 C-8,-27 -1.5,-28.5 -0.8,-40 Z"/>
</g>
<g stroke="#222" stroke-width=".6">
<circle cx="248" cy="532" r="3.2" fill="#e33fe8"/><circle cx="248" cy="529" r="3.4" fill="#f4c53b"/>
<circle cx="270" cy="537" r="3.2" fill="#f4c53b"/><circle cx="270" cy="540" r="3.2" fill="#e33fe8"/><circle cx="270" cy="545" r="3.2" fill="#2d2fe3"/>
<circle cx="295" cy="537" r="3.2" fill="#e33fe8"/><circle cx="295" cy="542" r="3.2" fill="#f4c53b"/>
<circle cx="320" cy="536" r="3.2" fill="#e33fe8"/><circle cx="320" cy="534" r="3.4" fill="#f4c53b"/>
</g>
<text class="x m" x="248" y="562">NC</text><text class="x m" x="270" y="562">CAF-</text><text class="x m" x="270" y="570">CM</text><text class="x m" x="296" y="562">&gt;3K</text><text class="x m" x="321" y="562">&lt;3K</text>
<text class="s" x="328" y="474">Rep</text>
<g stroke="#222" stroke-width=".6"><circle cx="335" cy="480" r="3" fill="#2d2fe3"/><circle cx="335" cy="489" r="3" fill="#e33fe8"/><circle cx="335" cy="498" r="3" fill="#f4c53b"/></g>
<text class="s" x="341" y="482.5">1</text><text class="s" x="341" y="491.5">2</text><text class="s" x="341" y="500.5">3</text>

<!-- ============ PANEL H ============ -->
<text class="L" x="353" y="388">h</text>
<text class="t m" x="415" y="428">Matrix feeding</text>
<path d="M370,432H459" stroke="#555" stroke-width=".8"/>
<text class="t m" x="372" y="462">Chemo-</text>
<text class="t m" x="372" y="471">therapy</text>
<text class="t m" x="412" y="457">CAFs</text>
<text class="t m" x="449" y="457">ECM</text>
<g fill="#9e1b2e"><circle cx="374" cy="479" r="1.7"/><circle cx="379" cy="477" r="1.7"/><circle cx="384" cy="480" r="1.7"/><circle cx="376" cy="484" r="1.7"/><circle cx="381" cy="486" r="1.7"/><circle cx="373" cy="489" r="1.7"/><circle cx="378" cy="490" r="1.7"/></g>
<ellipse cx="408" cy="476" rx="13" ry="8" fill="#f0c4c4" stroke="#c9a0a0" stroke-width=".6"/>
<ellipse cx="408" cy="474" rx="12" ry="6" fill="#f7d6d6"/>
<g stroke="#e06464" stroke-width="1.1" fill="none"><path d="M399,472 L406,475 L401,478"/><path d="M408,471 L415,474"/><path d="M410,477 L416,479"/></g>
<g stroke-width=".6" fill="none"><path d="M433,466 L460,478" stroke="#a7b6dd"/><path d="M435,472 L458,466" stroke="#e3a3b0"/><path d="M434,477 L461,470" stroke="#a7b6dd"/><path d="M437,482 L459,474" stroke="#e3a3b0"/><path d="M440,464 L455,484" stroke="#a7b6dd"/><path d="M433,471 L452,483" stroke="#c0c8e8"/><path d="M444,465 L462,482" stroke="#e3a3b0"/></g>
<g stroke="#444" stroke-width=".7" fill="none"><path d="M421,484 Q426,493 417,500"/><path d="M461,487 Q465,495 458,501"/></g>
<text class="t m" x="364" y="501">NC</text>
<text class="t m" x="405" y="499">CAF-CM</text>
<text class="t m" x="446" y="499">NC</text>
<ellipse cx="375" cy="512" rx="16" ry="9" fill="#dde6f2" stroke="#9fb3c8" stroke-width=".6"/>
<ellipse cx="411" cy="512" rx="16" ry="9" fill="#f6cfcf" stroke="#c9a0a0" stroke-width=".6"/>
<ellipse cx="446" cy="512" rx="16" ry="9" fill="#dde6f2" stroke="#9fb3c8" stroke-width=".6"/>
<g fill="#4a6fc0"><ellipse cx="375" cy="511" rx="10" ry="4"/><ellipse cx="411" cy="511" rx="10" ry="4"/><ellipse cx="446" cy="511" rx="10" ry="4"/></g>
<g fill="#9e1b2e"><circle cx="368" cy="507" r="1.7"/><circle cx="377" cy="505" r="1.7"/><circle cx="382" cy="511" r="1.7"/><circle cx="371" cy="514" r="1.7"/><circle cx="404" cy="507" r="1.7"/><circle cx="413" cy="505" r="1.7"/><circle cx="418" cy="511" r="1.7"/><circle cx="407" cy="514" r="1.7"/><circle cx="439" cy="507" r="1.7"/><circle cx="448" cy="505" r="1.7"/><circle cx="453" cy="511" r="1.7"/><circle cx="442" cy="514" r="1.7"/></g>

<text class="t m" x="560" y="398">γH2AX formation GEM</text>
<text class="p m" x="565" y="407"><tspan font-style="italic">P</tspan> = 0.8275</text>
<path d="M512,411H617" stroke="#555" stroke-width=".7"/>
<text class="p m" x="554" y="418"><tspan font-style="italic">P</tspan> = 0.0276</text>
<path d="M512,422H596" stroke="#555" stroke-width=".7"/>
<text class="p m" x="544" y="430"><tspan font-style="italic">P</tspan> = 0.0144</text>
<path d="M512,434H575" stroke="#555" stroke-width=".7"/>
<text class="p m" x="533" y="441"><tspan font-style="italic">P</tspan> = 0.0350</text>
<path d="M512,445H553" stroke="#555" stroke-width=".7"/>
<text class="p m" x="522" y="452"><tspan font-style="italic">P</tspan> = 0.0125</text>
<path d="M512,456H532" stroke="#555" stroke-width=".7"/>
<path d="M500,459V532 M497.5,459H500 M497.5,471.2H500 M497.5,483.3H500 M497.5,495.5H500 M497.5,507.7H500 M497.5,519.8H500 M497.5,532H500" stroke="#111" stroke-width=".9" fill="none"/>
<text class="k e" x="495" y="461.5">300</text><text class="k e" x="495" y="473.7">250</text><text class="k e" x="495" y="485.8">200</text><text class="k e" x="495" y="498">150</text><text class="k e" x="495" y="510.2">100</text><text class="k e" x="495" y="522.3">50</text><text class="k e" x="495" y="534.5">0</text>
<text class="t m" transform="translate(476,497) rotate(-90)">Foci counts</text>
<g fill="url(#pc)">
<ellipse cx="513" cy="516" rx="14" ry="16"/><ellipse cx="513" cy="518" rx="11" ry="12"/><ellipse cx="533" cy="525" rx="10" ry="8"/><ellipse cx="553" cy="524" rx="10" ry="9"/><ellipse cx="574" cy="524" rx="11" ry="8"/><ellipse cx="595" cy="525" rx="10" ry="8"/><ellipse cx="616" cy="515" rx="14" ry="17"/><ellipse cx="616" cy="517" rx="11" ry="13"/>
</g>
<g stroke="#111" stroke-width=".9">
<path transform="translate(513,532)" fill="url(#pp)" d="M0,-73 L0.8,-30 C1.5,-21 9,-20 9,-12 C9,-4.8 5,0 3,0 L-3,0 C-5,0 -9,-4.8 -9,-12 C-9,-20 -1.5,-21 -0.8,-30 Z"/>
<path transform="translate(533,532)" fill="url(#po)" d="M0,-58 L0.8,-15 C1.5,-10 9,-9.5 9,-5 C9,-2 7,0 5,0 L-5,0 C-7,0 -9,-2 -9,-5 C-9,-9.5 -1.5,-10 -0.8,-15 Z"/>
<path transform="translate(553,532)" fill="url(#pm)" d="M0,-73 L0.8,-20 C1.5,-13 9,-12.3 9,-6 C9,-2.4 7,0 5,0 L-5,0 C-7,0 -9,-2.4 -9,-6 C-9,-12.3 -1.5,-13 -0.8,-20 Z"/>
<path transform="translate(574,532)" fill="url(#po)" d="M0,-68 L0.8,-18 C1.5,-12 10,-11.4 10,-6 C10,-2.4 7,0 5,0 L-5,0 C-7,0 -10,-2.4 -10,-6 C-10,-11.4 -1.5,-12 -0.8,-18 Z"/>
<path transform="translate(595,532)" fill="url(#pm)" d="M0,-73 L0.8,-17 C1.5,-11 9,-10.4 9,-5 C9,-2 7,0 5,0 L-5,0 C-7,0 -9,-2 -9,-5 C-9,-10.4 -1.5,-11 -0.8,-17 Z"/>
<path transform="translate(616,532)" fill="url(#pp)" d="M0,-73 L0.8,-30 C1.5,-21 8,-20 8,-12 C8,-4.8 5,0 3,0 L-3,0 C-5,0 -8,-4.8 -8,-12 C-8,-20 -1.5,-21 -0.8,-30 Z"/>
</g>
<g stroke="#222" stroke-width=".6">
<circle cx="513" cy="518" r="3" fill="#2d2fe3"/><circle cx="513" cy="516" r="3" fill="#f4c53b"/>
<circle cx="533" cy="523" r="3" fill="#e33fe8"/><circle cx="533" cy="527" r="3" fill="#f4c53b"/>
<circle cx="553" cy="520" r="3" fill="#e33fe8"/><circle cx="553" cy="523" r="3" fill="#f4c53b"/><circle cx="553" cy="526" r="3" fill="#2d2fe3"/>
<circle cx="574" cy="526" r="3" fill="#e33fe8"/><circle cx="574" cy="524" r="3" fill="#f4c53b"/>
<circle cx="595" cy="523" r="3" fill="#e33fe8"/><circle cx="595" cy="526" r="3" fill="#f4c53b"/>
<circle cx="616" cy="512" r="3" fill="#e33fe8"/><circle cx="616" cy="516" r="3" fill="#f4c53b"/><circle cx="616" cy="520" r="3" fill="#2d2fe3"/>
</g>
<text class="x m" x="513" y="542">NC</text><text class="x m" x="533" y="542">CAF-</text><text class="x m" x="533" y="551">CM</text><text class="x m" x="553" y="542">COL</text><text class="x m" x="574" y="542">LAM</text><text class="x m" x="595" y="542">FN</text><text class="x m" x="616" y="542">RGD</text>
<text class="s" x="623" y="425">Rep</text>
<g stroke="#222" stroke-width=".6"><circle cx="629" cy="431" r="3" fill="#2d2fe3"/><circle cx="629" cy="439" r="3" fill="#e33fe8"/><circle cx="629" cy="448" r="3" fill="#f4c53b"/></g>
<text class="s" x="634" y="433.5">1</text><text class="s" x="634" y="441.5">2</text><text class="s" x="634" y="450.5">3</text>
</svg>
</body></html>
